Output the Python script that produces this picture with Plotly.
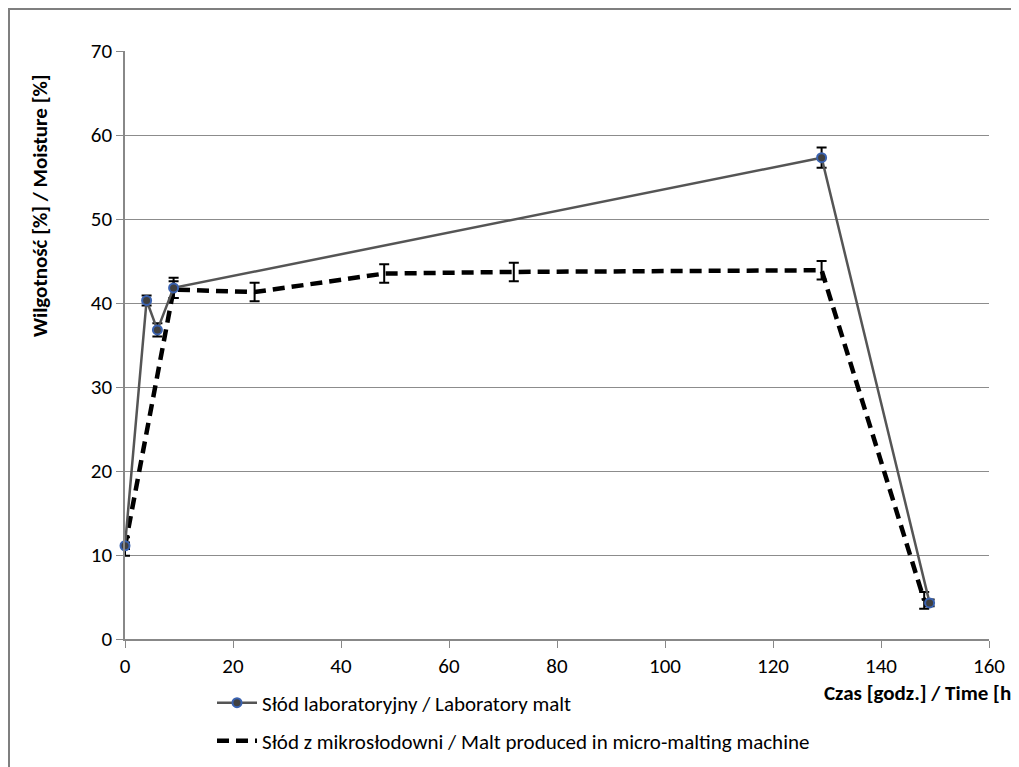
import plotly.graph_objects as go

# Data
lab_time = [0, 4, 6, 9, 129, 149]
lab_moist = [11.1, 40.3, 36.8, 41.8, 57.3, 4.3]
lab_err = [0.4, 0.6, 0.8, 1.2, 1.2, 0.4]

micro_time = [0, 9, 24, 48, 72, 129, 148]
micro_moist = [11.0, 41.6, 41.3, 43.5, 43.7, 43.9, 4.6]
micro_err = [1.1, 1.0, 1.1, 1.1, 1.1, 1.1, 1.0]

x_ticks = [0, 20, 40, 60, 80, 100, 120, 140, 160]
y_ticks = [0, 10, 20, 30, 40, 50, 60, 70]

FONT = "Carlito, Calibri, Lato, 'Open Sans', sans-serif"

def px_x(p):
    return (p - 125) / 864

def px_y(p):
    return (639 - p) / 588

fig = go.Figure()

fig.add_trace(go.Scatter(
    x=micro_time, y=micro_moist, mode="lines",
    name="Słód z mikrosłodowni / Malt produced in micro-malting machine",
    line=dict(color="black", width=4.5, dash="12px,7px"),
    error_y=dict(type="data", array=micro_err, visible=True, color="black", thickness=2, width=5),
    legend="legend2", cliponaxis=False,
))

fig.add_trace(go.Scatter(
    x=lab_time, y=lab_moist, mode="lines+markers",
    name="Słód laboratoryjny / Laboratory malt",
    line=dict(color="#555555", width=2.5),
    marker=dict(size=9, color="#404040", line=dict(color="#3a62b0", width=2)),
    error_y=dict(type="data", array=lab_err, visible=True, color="black", thickness=2, width=5),
    legend="legend", cliponaxis=False,
))

leg_common = dict(xanchor="left", yanchor="middle", orientation="v",
                  font=dict(family=FONT, size=21, color="black"),
                  bgcolor="rgba(0,0,0,0)", itemwidth=40)

fig.update_layout(
    width=1011, height=759,
    margin=dict(l=117, r=30, t=43, b=128, autoexpand=False),
    paper_bgcolor="white", plot_bgcolor="white",
    font=dict(family=FONT, size=21, color="black"),
    showlegend=True,
    legend=dict(x=px_x(212), y=px_y(703), **leg_common),
    legend2=dict(x=px_x(212), y=px_y(741), **leg_common),
    xaxis=dict(range=[0, 160], tickvals=x_ticks, showgrid=False, zeroline=False,
               showline=True, linecolor="#888888", linewidth=1.5,
               ticks="outside", ticklen=7, tickcolor="#888888",
               tickfont=dict(family=FONT, size=21), automargin=False),
    yaxis=dict(range=[0, 70], tickvals=y_ticks, showgrid=True, gridcolor="#8c8c8c", gridwidth=1.3,
               zeroline=False, showline=True, linecolor="#888888", linewidth=1.5,
               ticks="outside", ticklen=7, tickcolor="#888888",
               tickfont=dict(family=FONT, size=21), automargin=False),
    annotations=[
        dict(text="<b>Wilgotność [%] / Moisture [%]</b>", xref="paper", yref="paper",
             x=px_x(40), y=px_y(206), textangle=-90, showarrow=False,
             xanchor="center", yanchor="middle", font=dict(family=FONT, size=21)),
        dict(text="<b>Czas [godz.] / Time [h]</b>", xref="paper", yref="paper",
             x=px_x(822), y=px_y(693), showarrow=False,
             xanchor="left", yanchor="middle", font=dict(family=FONT, size=21)),
    ],
    shapes=[
        dict(type="rect", xref="paper", yref="paper",
             x0=px_x(9), x1=px_x(1040),
             y0=px_y(800), y1=px_y(9),
             line=dict(color="#7f7f7f", width=2), fillcolor="rgba(0,0,0,0)", layer="below"),
    ],
)

fig.write_html("out.html")
